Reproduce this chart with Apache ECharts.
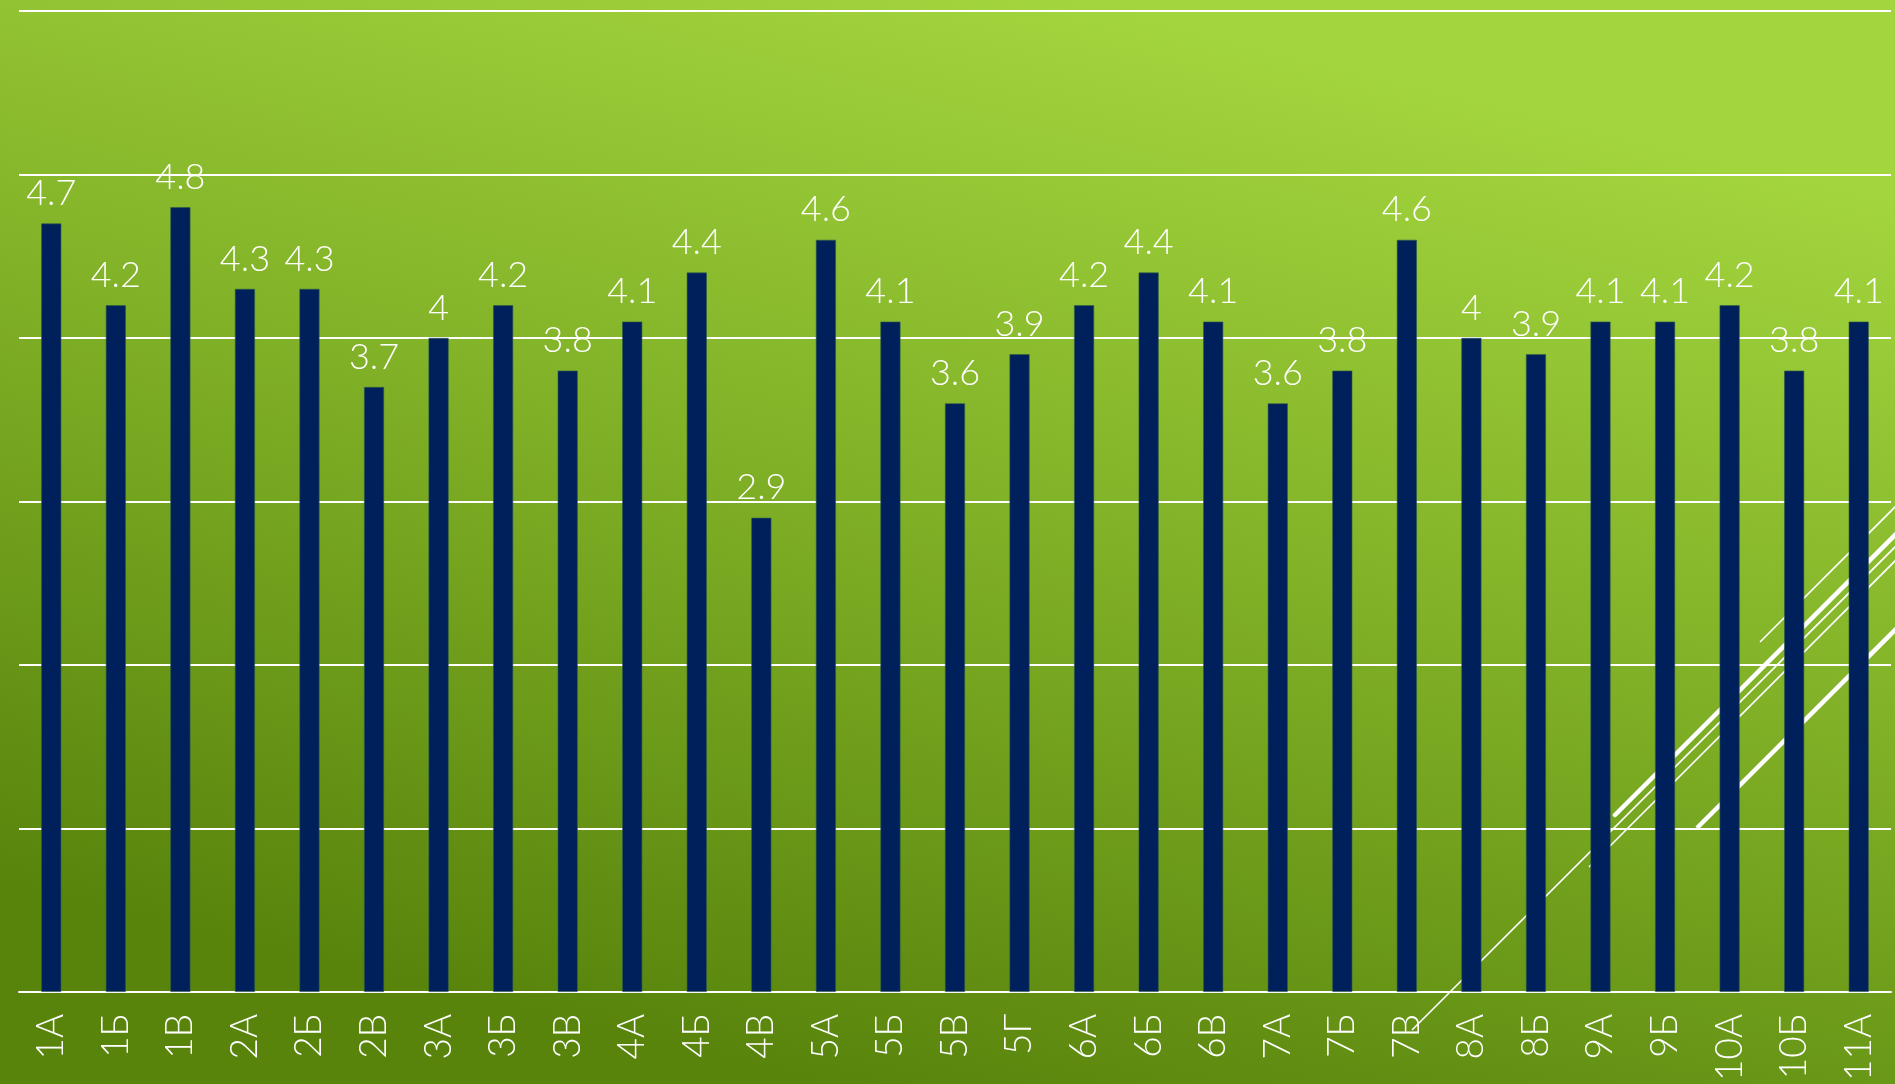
<!DOCTYPE html>
<html>
<head>
<meta charset="utf-8">
<script src="https://cdn.jsdelivr.net/npm/echarts@6/dist/echarts.min.js"></script>
<style>
html,body{margin:0;padding:0;width:1895px;height:1084px;overflow:hidden;}
#chart{width:1895px;height:1084px;}
</style>
</head>
<body>
<div id="chart"></div>
<script>
const categories = ['1А','1Б','1В','2А','2Б','2В','3А','3Б','3В','4А','4Б','4В','5А','5Б','5В','5Г','6А','6Б','6В','7А','7Б','7В','8А','8Б','9А','9Б','10А','10Б','11А'];
const values = [4.7,4.2,4.8,4.3,4.3,3.7,4,4.2,3.8,4.1,4.4,2.9,4.6,4.1,3.6,3.9,4.2,4.4,4.1,3.6,3.8,4.6,4,3.9,4.1,4.1,4.2,3.8,4.1];
const yMin = 0, yMax = 6, yInterval = 1;

const chart = echarts.init(document.getElementById('chart'), null, {renderer:'canvas'});
const fontFamily = 'Lato, "Noto Sans", sans-serif';

function deco(x1,y1,x2,y2,w,cap){
  return {type:'line', z:1, silent:true,
    shape:{x1:x1,y1:y1,x2:x2,y2:y2},
    style:{stroke:'#ffffff', lineWidth:w, lineCap:cap||'butt'}};
}

chart.setOption({
  backgroundColor: {
    type:'linear', x:0.57, y:0, x2:0.43, y2:1,
    colorStops:[
      {offset:0, color:'#a3d53e'},
      {offset:0.5, color:'#7eae25'},
      {offset:1, color:'#58840c'}
    ]
  },
  animation:false,
  grid:{left:19, right:4, top:11, bottom:91, containLabel:false},
  xAxis:{
    type:'category',
    data:categories,
    axisLine:{show:true, lineStyle:{color:'#ffffff', width:2}},
    axisTick:{show:false},
    axisLabel:{rotate:90, color:'#ffffff', fontSize:37, fontFamily:fontFamily, fontWeight:300, margin:22, interval:0}
  },
  yAxis:{
    type:'value', min:yMin, max:yMax, interval:yInterval,
    axisLine:{show:false}, axisTick:{show:false}, axisLabel:{show:false},
    splitLine:{show:true, lineStyle:{color:'#ffffff', width:2}}
  },
  series:[{
    type:'bar',
    data:values,
    barWidth:20,
    z:2,
    itemStyle:{color:'#00205b', borderColor:'#2f5a4a', borderWidth:0.6},
    label:{show:true, position:'top', distance:12, color:'#ffffff', fontSize:36, fontFamily:fontFamily, fontWeight:300}
  }],
  graphic:{elements:[
    deco(1412,1030,1900,542,1.6),
    deco(1589,867,1900,556,1.6),
    deco(1615,815,1900,530,4.5,'round'),
    deco(1760,642,1900,502,1.6),
    deco(1697,828,1900,625,4.5)
  ]}
});
</script>
</body>
</html>
